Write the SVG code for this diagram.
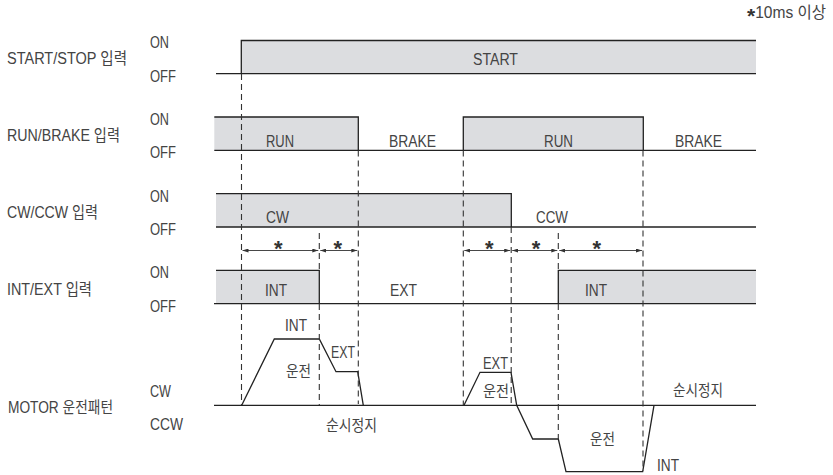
<svg xmlns="http://www.w3.org/2000/svg" width="833" height="475" viewBox="0 0 833 475">
<defs>
<style>
text{font-family:"Liberation Sans","Noto Sans CJK KR",sans-serif;fill:#444;font-size:15.8px}
.lbl{font-size:16.3px}
.star{font-size:22px;font-weight:bold;text-anchor:middle;fill:#333}
.fill{fill:#dcdde0;stroke:none}
.ln{fill:none;stroke:#222;stroke-width:1.3}
.dash{fill:none;stroke:#333;stroke-width:1.1;stroke-dasharray:6 4}
.dim{fill:none;stroke:#333;stroke-width:0.9;marker-start:url(#ah);marker-end:url(#ah)}
</style>
<marker id="ah" viewBox="0 0 6 4" refX="6" refY="2" markerWidth="6" markerHeight="4" markerUnits="userSpaceOnUse" orient="auto-start-reverse">
<path d="M0,0 L6,2 L0,4 Z" fill="#333"/>
</marker>
</defs>
<rect width="833" height="475" fill="#fff"/>

<text x="747" y="18"><tspan font-size="21" font-weight="bold" dy="5" fill="#333">*</tspan><tspan dy="-5" textLength="71" lengthAdjust="spacingAndGlyphs">10ms 이상</tspan></text>

<g id="start-stop">
<text class="lbl" x="7" y="64" textLength="120" lengthAdjust="spacingAndGlyphs">START/STOP 입력</text>
<text class="lbl" x="150" y="48" textLength="19" lengthAdjust="spacingAndGlyphs">ON</text>
<text class="lbl" x="150" y="81.5" textLength="26" lengthAdjust="spacingAndGlyphs">OFF</text>
<rect class="fill" x="241.3" y="40.5" width="514.7" height="33.2"/>
<path class="ln" d="M216,73.7 H756 M241.3,73.7 V40.5 H756"/>
<text x="473" y="64.5" textLength="45" lengthAdjust="spacingAndGlyphs">START</text>
</g>

<g id="run-brake">
<text class="lbl" x="7" y="141" textLength="113" lengthAdjust="spacingAndGlyphs">RUN/BRAKE 입력</text>
<text class="lbl" x="150" y="125" textLength="19" lengthAdjust="spacingAndGlyphs">ON</text>
<text class="lbl" x="150" y="158" textLength="26" lengthAdjust="spacingAndGlyphs">OFF</text>
<rect class="fill" x="214.3" y="117" width="144" height="33.3"/>
<rect class="fill" x="463.3" y="117" width="180" height="33.3"/>
<path class="ln" d="M214.3,150.3 H756 M214.3,117 H358.3 V150.3 M463.3,150.3 V117 H643.3 V150.3"/>
<text x="266" y="146.5" textLength="28" lengthAdjust="spacingAndGlyphs">RUN</text>
<text x="389" y="146.5" textLength="47" lengthAdjust="spacingAndGlyphs">BRAKE</text>
<text x="544" y="146.5" textLength="29" lengthAdjust="spacingAndGlyphs">RUN</text>
<text x="675" y="146.5" textLength="47" lengthAdjust="spacingAndGlyphs">BRAKE</text>
</g>

<g id="cw-ccw">
<text class="lbl" x="7" y="218" textLength="91" lengthAdjust="spacingAndGlyphs">CW/CCW 입력</text>
<text class="lbl" x="150" y="201.5" textLength="19" lengthAdjust="spacingAndGlyphs">ON</text>
<text class="lbl" x="150" y="235" textLength="26" lengthAdjust="spacingAndGlyphs">OFF</text>
<rect class="fill" x="216" y="193.7" width="295.3" height="33.3"/>
<path class="ln" d="M216,227 H756 M216,193.7 H511.3 V227"/>
<text x="266" y="223" textLength="23" lengthAdjust="spacingAndGlyphs">CW</text>
<text x="536" y="223" textLength="32" lengthAdjust="spacingAndGlyphs">CCW</text>
</g>

<g id="int-ext">
<text class="lbl" x="7" y="295" textLength="85" lengthAdjust="spacingAndGlyphs">INT/EXT 입력</text>
<text class="lbl" x="150" y="278" textLength="19" lengthAdjust="spacingAndGlyphs">ON</text>
<text class="lbl" x="150" y="311.5" textLength="26" lengthAdjust="spacingAndGlyphs">OFF</text>
<rect class="fill" x="216" y="270.3" width="103.3" height="33.4"/>
<rect class="fill" x="558.3" y="270.3" width="197.7" height="33.4"/>
<path class="ln" d="M214,303.7 H756 M216,270.3 H319.3 V303.7 M558.3,303.7 V270.3 H756"/>
<text x="265" y="296" textLength="22" lengthAdjust="spacingAndGlyphs">INT</text>
<text x="390" y="296" textLength="27" lengthAdjust="spacingAndGlyphs">EXT</text>
<text x="585" y="296" textLength="22" lengthAdjust="spacingAndGlyphs">INT</text>
</g>

<g id="motor">
<text class="lbl" x="8" y="413" textLength="105" lengthAdjust="spacingAndGlyphs">MOTOR 운전패턴</text>
<text class="lbl" x="150" y="396.5" textLength="21" lengthAdjust="spacingAndGlyphs">CW</text>
<text class="lbl" x="150" y="430" textLength="33" lengthAdjust="spacingAndGlyphs">CCW</text>
<path class="ln" d="M214,405.3 H756"/>
<path class="ln" d="M241.7,405.3 L274.3,339 H319.3 L336,371.7 H357.7 L363.3,405.3"/>
<path class="ln" d="M464,405.3 L480,372.3 H511 L516.7,405.3 L532.7,439 H558.3 L566,471.7 H642.7 L654,405.3"/>
<text x="285" y="330.5" textLength="22" lengthAdjust="spacingAndGlyphs">INT</text>
<text x="286" y="377" textLength="25" lengthAdjust="spacingAndGlyphs">운전</text>
<text x="331" y="358" textLength="24" lengthAdjust="spacingAndGlyphs">EXT</text>
<text x="326" y="430.5" textLength="51" lengthAdjust="spacingAndGlyphs">순시정지</text>
<text x="483" y="368.5" textLength="25" lengthAdjust="spacingAndGlyphs">EXT</text>
<text x="483" y="397" textLength="26" lengthAdjust="spacingAndGlyphs">운전</text>
<text x="590" y="445" textLength="25" lengthAdjust="spacingAndGlyphs">운전</text>
<text x="657" y="471" textLength="22" lengthAdjust="spacingAndGlyphs">INT</text>
<text x="673" y="395.5" textLength="50" lengthAdjust="spacingAndGlyphs">순시정지</text>
</g>

<g id="connectors">
<path class="dash" d="M241.5,74 V405"/>
<path class="dash" d="M358.3,150.5 V404"/>
<path class="dash" d="M319.3,233 V270 M319.3,304 V405"/>
<path class="dash" d="M463.3,150.5 V405"/>
<path class="dash" d="M511.2,227 V405"/>
<path class="dash" d="M558.3,233 V270 M558.3,304 V439"/>
<path class="dash" d="M643,150.5 V471"/>
<path class="dim" d="M242.5,250.5 H318.3"/>
<path class="dim" d="M320.3,250.5 H357.3"/>
<path class="dim" d="M464.3,250.5 H510.2"/>
<path class="dim" d="M512.2,250.5 H557.3"/>
<path class="dim" d="M559.3,250.5 H642"/>
<text class="star" x="278.3" y="256">*</text>
<text class="star" x="337.7" y="256">*</text>
<text class="star" x="489.3" y="256">*</text>
<text class="star" x="536" y="256">*</text>
<text class="star" x="596.7" y="256">*</text>
</g>
</svg>
